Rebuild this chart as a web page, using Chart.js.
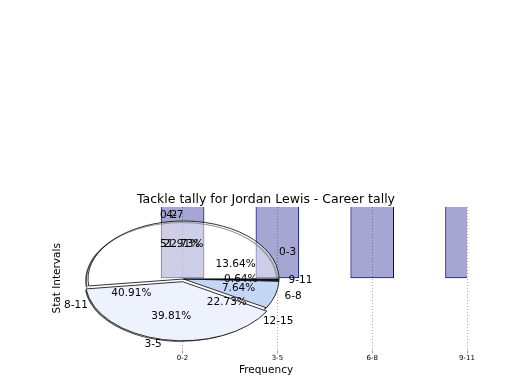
<!DOCTYPE html>
<html><head><meta charset="utf-8">
<script src="https://cdn.jsdelivr.net/npm/chart.js@4/dist/chart.umd.min.js"></script>
<style>
html,body{margin:0;padding:0;background:#fff;}
#wrap{position:relative;width:520px;height:390px;}
#wrap canvas{position:absolute;left:0;top:0;}
</style></head><body>
<div id="wrap">
<canvas id="bars" width="520" height="390"></canvas>
<canvas id="pieB" width="520" height="390"></canvas>
<canvas id="pieA" width="520" height="390"></canvas>
</div>
<script>
// ---- data ----
const titleText = 'Tackle tally for Jordan Lewis - Career tally';
const xTitle = 'Frequency';
const yTitle = 'Stat Intervals';
const barCategories = ['0-2', '3-5', '6-8', '9-11'];
const barValues = [5, 8, 7, 2];
const pieALabels = ['0-2', '3-5', '6-8', '9-11'];
const pieAValues = [51.91, 39.81, 7.64, 0.64];
const pieBLabels = ['0-3', '4-7', '8-11', '12-15'];
const pieBValues = [13.64, 22.73, 40.91, 22.73];

// ---- styles ----
const FAMILY = "'DejaVu Sans', sans-serif";
const K = 58 / 95.5;               // vertical squash of the pie (unequal aspect)
const pieAColors = ['rgba(255,255,255,0.45)', '#eef2fd', '#c5d7f7', '#303030'];
const pieAOffsets = [0, 18, 0, 0];

// bar chart
new Chart(document.getElementById('bars'), {
  type: 'bar',
  data: {
    datasets: [{
      data: barCategories.map((c, i) => ({x: i, y: barValues[i]})),
      backgroundColor: 'rgba(0,0,128,0.35)',
      borderColor: '#000080',
      borderWidth: 1,
      borderSkipped: false,
      barPercentage: 0.46,
      categoryPercentage: 1
    }]
  },
  options: {
    responsive: false, animation: false, devicePixelRatio: 1, events: [],
    layout: {padding: {left: 50.7, right: 53, top: 192, bottom: 13.4}},
    plugins: {
      legend: {display: false}, tooltip: {enabled: false},
      title: {display: true, text: titleText, fullSize: false, color: '#000',
              font: {family: FAMILY, size: 12.5, weight: 'normal'}, padding: {top: 0, bottom: 0}}
    },
    scales: {
      x: {
        type: 'linear', min: -1.24, max: 3, offset: false,
        afterBuildTicks: s => { s.ticks = barCategories.map((c, i) => ({value: i})); },
        ticks: {callback: v => barCategories[v] ?? '', font: {family: FAMILY, size: 7}, color: '#000',
                padding: 0, maxRotation: 0, autoSkip: false},
        grid: {color: '#aaaaaa', lineWidth: 1, tickLength: 4, offset: false},
        border: {display: false, dash: [1, 2]},
        title: {display: true, text: xTitle, color: '#000', font: {family: FAMILY, size: 10.5},
                padding: {top: 2, bottom: 0}}
      },
      y: {
        min: -1, max: 1,
        ticks: {display: false},
        grid: {display: false, drawTicks: false},
        border: {display: false},
        title: {display: true, text: yTitle, color: '#000', font: {family: FAMILY, size: 10.5},
                padding: {top: 0, bottom: 1.7}}
      }
    }
  }
});

// squash plugin: turns the circular pie into the ellipse of the reference
const squash = {
  id: 'squash',
  beforeDatasetsDraw(chart) {
    const a = chart.getDatasetMeta(0).data[0];
    const ctx = chart.ctx;
    ctx.save();
    if (chart.canvas.id === 'pieA') {
      // shadow rim
      ctx.save();
      ctx.translate(-2, 1.6);
      ctx.translate(a.x, a.y); ctx.scale(1, K); ctx.translate(-a.x, -a.y);
      chart.getDatasetMeta(0).data.forEach(arc => {
        const mid = (arc.startAngle + arc.endAngle) / 2;
        const off = (arc.options.offset || 0) / 4;
        ctx.beginPath();
        ctx.arc(arc.x + Math.cos(mid) * off, arc.y + Math.sin(mid) * off, arc.outerRadius, arc.startAngle, arc.endAngle);
        ctx.strokeStyle = 'rgba(40,40,40,0.85)';
        ctx.lineWidth = 1.6;
        ctx.stroke();
      });
      ctx.restore();
    }
    ctx.translate(a.x, a.y); ctx.scale(1, K); ctx.translate(-a.x, -a.y);
  },
  afterDatasetsDraw(chart) { chart.ctx.restore(); }
};

function pieConfig(labels, values, colors, offsets, border, plugins) {
  return {
    type: 'pie',
    data: {
      labels: [...labels].reverse(),
      datasets: [{
        data: [...values].reverse(),
        backgroundColor: [...colors].reverse(),
        offset: [...offsets].reverse(),
        borderColor: '#000',
        borderWidth: border,
        radius: 95.5
      }]
    },
    options: {
      responsive: false, animation: false, devicePixelRatio: 1, events: [],
      rotation: 90,
      layout: {padding: {left: 0, right: 153, top: 168, bottom: 0}},
      plugins: {legend: {display: false}, tooltip: {enabled: false}, title: {display: false}}
    },
    plugins: plugins
  };
}

// pie B: fully covered by pie A in the reference; only its labels show
const chartB = new Chart(document.getElementById('pieB'),
  pieConfig(pieBLabels, pieBValues, pieBLabels.map(() => 'rgba(0,0,0,0)'), pieBLabels.map(() => 0), 0, [squash]));

function drawLabels(targetCtx, chart, labels, values) {
  const ctx = targetCtx;
  const meta = chart.getDatasetMeta(0);
  const n = labels.length;
  const total = values.reduce((s, v) => s + v, 0);
  ctx.save();
  ctx.fillStyle = '#000';
  ctx.font = '10.5px ' + FAMILY;
  ctx.textBaseline = 'middle';
  meta.data.forEach((arc, j) => {
    const i = n - 1 - j;
    const mid = (arc.startAngle + arc.endAngle) / 2;
    const off = (arc.options.offset || 0) / 4;
    const R = arc.outerRadius;
    const c = Math.cos(mid), s = Math.sin(mid);
    ctx.textAlign = c > 0 ? 'left' : 'right';
    ctx.fillText(labels[i], arc.x + c * (off + 1.1 * R), arc.y + K * s * (off + 1.1 * R));
    ctx.textAlign = 'center';
    ctx.fillText((values[i] / total * 100).toFixed(2) + '%', arc.x + c * (off + 0.6 * R), arc.y + K * s * (off + 0.6 * R));
  });
  ctx.restore();
}

// pie A on top; all labels painted last so they sit above every wedge
new Chart(document.getElementById('pieA'),
  pieConfig(pieALabels, pieAValues, pieAColors, pieAOffsets, 1, [squash, {
    id: 'pieLabels',
    afterDraw(chart) {
      drawLabels(chart.ctx, chartB, pieBLabels, pieBValues);
      drawLabels(chart.ctx, chart, pieALabels, pieAValues);
    }
  }]));
</script>
</body></html>
